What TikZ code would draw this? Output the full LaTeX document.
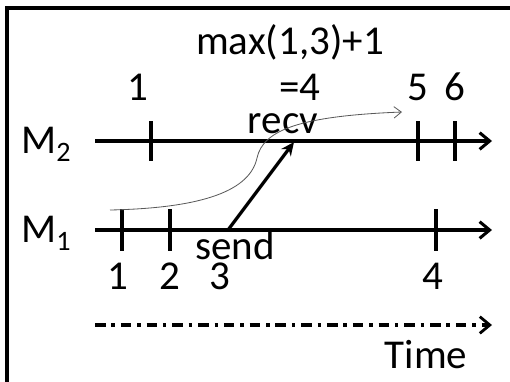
\documentclass[tikz,border=0pt]{standalone}
\usepackage{fontspec}
\setmainfont{Carlito}
\usetikzlibrary{arrows.meta}
\newcommand{\lowsub}[1]{{\fontsize{24}{26}\selectfont\raisebox{-7pt}{#1}}}
\tikzset{
  timeline/.style={line width=3pt, -{Straight Barb[length=3mm, width=5mm, line width=2.6pt]}},
  tick/.style={line width=2.6pt},
  msgarrow/.style={line width=2.8pt, -{Stealth[length=4mm, width=3.6mm]}},
  flowcurve/.style={gray!70!black, line width=0.7pt, -{Straight Barb[length=2.2mm, width=3.4mm]}},
  stamp/.style={font=\fontsize{35}{40}\selectfont, inner sep=0pt, anchor=base},
  evlabel/.style={font=\fontsize{35}{40}\selectfont, inner sep=0pt, anchor=base}
}

\begin{document}
\begin{tikzpicture}[x=0.03cm, y=-0.03cm]
  \useasboundingbox (0,0) rectangle (510,381);
  \draw[line width=2.6pt] (7,400) -- (7,8) -- (530,8);
  % machine labels
  \node[evlabel] (m2) at (46,153) {M\lowsub{2}};
  \node[evlabel] (m1) at (46,242) {M\lowsub{1}};
  % time lines
  \coordinate (m2s) at (95,141);  \coordinate (m2e) at (492,141);
  \coordinate (m1s) at (95,230);  \coordinate (m1e) at (492,230);
  \draw[timeline] (m2s) -- (m2e);
  \draw[timeline] (m1s) -- (m1e);
  % ticks on M2
  \foreach \x/\n in {151/a, 418/b, 455/c}
    \draw[tick] (\x,121) coordinate (t2\n) -- (\x,161);
  % ticks on M1
  \foreach \x/\n in {122/a, 170/b, 436/c}
    \draw[tick] (\x,209) coordinate (t1\n) -- (\x,251);
  % clock values
  \node[stamp] (c2a) at (138,100) {1};
  \node[stamp] (c2b) at (300,100) {=4};
  \node[stamp] (c2c) at (418,100) {5};
  \node[stamp] (c2d) at (455,100) {6};
  \node[stamp] (c1a) at (118,289) {1};
  \node[stamp] (c1b) at (170,289) {2};
  \node[stamp] (c1c) at (220,289) {3};
  \node[stamp] (c1d) at (433,289) {4};
  \node[stamp] (rule) at (290,54) {max(1,3)+1};
  % send / receive
  \coordinate (snd) at (228,230);
  \coordinate (rcv) at (294,142);
  \node[evlabel] (sendl) at (235,259) {send};
  \node[evlabel] (recvl) at (283,133) {recv};
  \draw[msgarrow] (snd) -- (rcv);
  % flow of clock values
  \coordinate (fa) at (110,210);
  \coordinate (fb) at (402,112);
  \draw[flowcurve] (fa) .. controls (205,208) and (250,190) .. (257,158)
    .. controls (263,130) and (300,116) .. (fb);
  % time axis
  \coordinate (ts) at (95,325);  \coordinate (te) at (492,325);
  \draw[line width=2.8pt, dash pattern=on 9pt off 5pt on 3pt off 5pt,
    -{Straight Barb[length=3mm, width=5mm, line width=2.4pt]}] (ts) -- (te);
  \node[evlabel] (timel) at (426,368) {Time};
\end{tikzpicture}
\end{document}
